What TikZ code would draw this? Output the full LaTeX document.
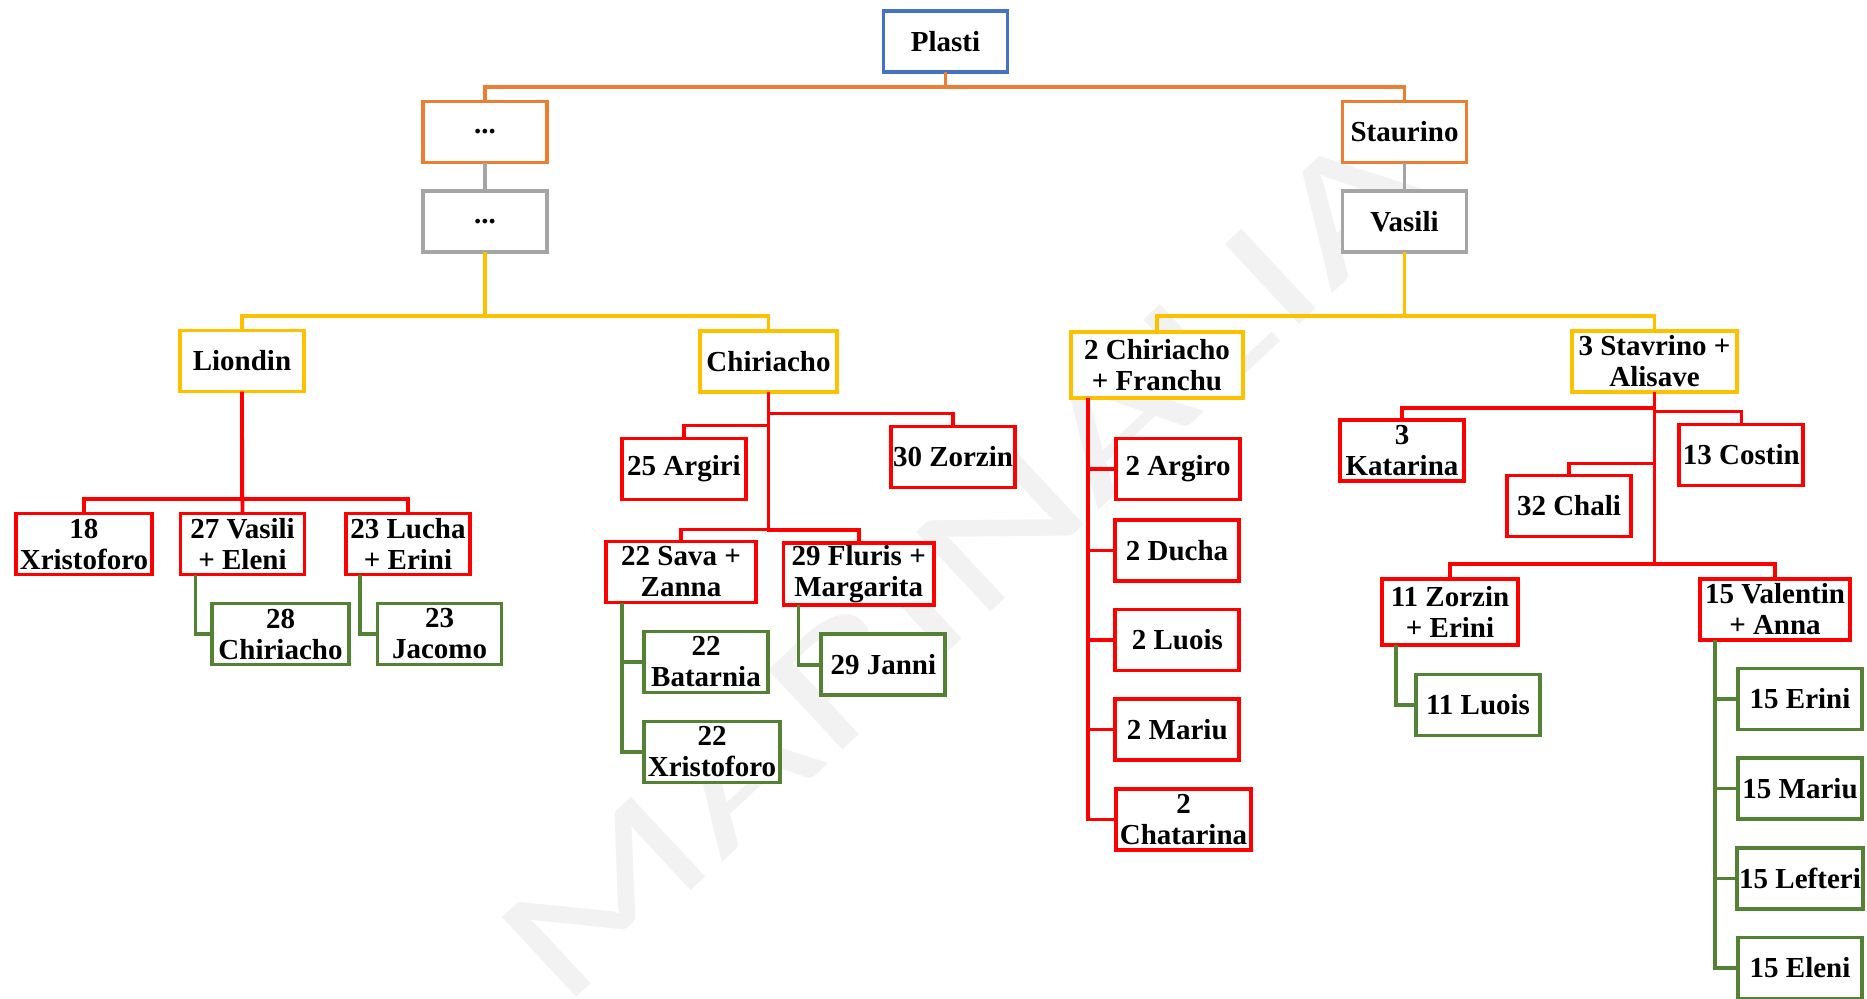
\documentclass[tikz,border=0pt]{standalone}
\usepackage{fontspec}
\setmainfont{Liberation Serif}
\newfontfamily\markfont{Carlito}
\usetikzlibrary{calc}
\definecolor{officeblue}{RGB}{68,114,196}
\definecolor{officeorange}{RGB}{237,125,49}
\definecolor{officegray}{RGB}{165,165,165}
\definecolor{officegold}{RGB}{255,192,0}
\definecolor{brightred}{RGB}{255,0,0}
\definecolor{leafgreen}{RGB}{84,130,53}
\definecolor{markgray}{RGB}{242,242,242}

\begin{document}
\begin{tikzpicture}[x=0.5pt, y=-0.5pt, line join=miter,
    box/.style={draw, fill=white, line width=1.85pt, inner sep=1pt, outer sep=0pt,
      align=center, minimum width=62pt, minimum height=30.5pt,
      font=\fontsize{14.5}{15.5}\selectfont\bfseries},
    link/.style={line width=1.8pt}]

		% page frame
		\useasboundingbox (0,0) rectangle (1867,998);

		% watermark
		\node[text=markgray, font=\markfont\fontsize{85}{85}\selectfont,
		  rotate=43, xscale=1.5] (mark) at (963,563) {MARINALIA};

		% bar heights
		\coordinate (bar0) at (0,87);
		\coordinate (bar2) at (0,316);
		\coordinate (barL) at (0,499);
		\coordinate (barS) at (0,564);

		% top and first generations
		\node[box, draw=officeblue] (pla) at (945.5,41.5) {Plasti};
		\node[box, draw=officeorange] (dotA) at (485,132) {...};
		\node[box, draw=officeorange] (sta) at (1404.5,132) {Staurino};
		\node[box, draw=officegray] (dotB) at (485,221.5) {...};
		\node[box, draw=officegray] (vas) at (1404.5,221.5) {Vasili};

		% third generation
		\node[box, draw=officegold] (lio) at (242,361) {Liondin};
		\node[box, draw=officegold, minimum width=68.75pt] (chi) at (768.5,361.5) {Chiriacho};
		\node[box, draw=officegold, minimum width=86pt, minimum height=33.25pt] (fra) at (1157,365) {2 Chiriacho\\+ Franchu};
		\node[box, draw=officegold, minimum width=82.75pt] (stv) at (1654.5,361.3) {3 Stavrino +\\Alisave};

		% Liondin branch
		\node[box, draw=brightred, minimum width=68.25pt] (x18) at (84,544) {18\\Xristoforo};
		\node[box, draw=brightred] (vas27) at (242.5,544) {27 Vasili\\+ Eleni};
		\node[box, draw=brightred] (luc23) at (408,544) {23 Lucha\\+ Erini};
		\node[box, draw=leafgreen, minimum width=68.75pt] (chi28) at (280.5,634) {28\\Chiriacho};
		\node[box, draw=leafgreen] (jac23) at (439.6,634) {23\\Jacomo};

		% Chiriacho branch
		\node[box, draw=brightred] (arg25) at (684,469) {25 Argiri};
		\node[box, draw=brightred] (zor30) at (953,457) {30 Zorzin};
		\node[box, draw=brightred, minimum width=75.25pt] (sav22) at (681,572) {22 Sava +\\Zanna};
		\node[box, draw=brightred, minimum width=75.25pt] (flu29) at (858.7,574) {29 Fluris +\\Margarita};
		\node[box, draw=leafgreen] (bat22) at (706,662) {22\\Batarnia};
		\node[box, draw=leafgreen, minimum width=68.25pt] (xri22) at (712,752) {22\\Xristoforo};
		\node[box, draw=leafgreen] (jan29) at (883.3,664.7) {29 Janni};

		% Franchu branch
		\node[box, draw=brightred] (arg2) at (1178,469) {2 Argiro};
		\node[box, draw=brightred] (duc2) at (1177,550.5) {2 Ducha};
		\node[box, draw=brightred] (luo2) at (1177.3,640) {2 Luois};
		\node[box, draw=brightred] (mar2) at (1177.3,729.5) {2 Mariu};
		\node[box, draw=brightred, minimum width=67.75pt] (cha2) at (1183.5,819.5) {2\\Chatarina};

		% Stavrino branch
		\node[box, draw=brightred] (kat3) at (1402,450.5) {3\\Katarina};
		\node[box, draw=brightred] (cos13) at (1741.3,455) {13 Costin};
		\node[box, draw=brightred] (cha32) at (1569,506) {32 Chali};
		\node[box, draw=brightred, minimum width=68.25pt, minimum height=33.25pt] (zor11) at (1450,612) {11 Zorzin\\+ Erini};
		\node[box, draw=brightred, minimum width=74.75pt] (val15) at (1775,609.5) {15 Valentin\\+ Anna};
		\node[box, draw=leafgreen] (luo11) at (1478,705) {11 Luois};
		\node[box, draw=leafgreen] (eri15) at (1800,699) {15 Erini};
		\node[box, draw=leafgreen] (mar15) at (1800,788.6) {15 Mariu};
		\node[box, draw=leafgreen] (lef15) at (1800,878.5) {15 Lefteri};
		\node[box, draw=leafgreen] (ele15) at (1800,968) {15 Eleni};

		% links
		\draw[link, officeorange] (pla.south) |- (dotA.north |- bar0) -- (dotA.north);
		\draw[link, officeorange] (pla.south) |- (sta.north |- bar0) -- (sta.north);
		\draw[link, officegray] (dotA) -- (dotB);
		\draw[link, officegray] (sta) -- (vas);
		\draw[link, officegold] (dotB.south) |- (lio.north |- bar2) -- (lio.north);
		\draw[link, officegold] (dotB.south) |- (chi.north |- bar2) -- (chi.north);
		\draw[link, officegold] (vas.south) |- (fra.north |- bar2) -- (fra.north);
		\draw[link, officegold] (vas.south) |- (stv.north |- bar2) -- (stv.north);

		\draw[link, brightred] (lio.south) |- (x18.north |- barL) -- (x18.north);
		\draw[link, brightred] (lio.south) -- (vas27.north);
		\draw[link, brightred] (lio.south) |- (luc23.north |- barL) -- (luc23.north);
		\draw[link, leafgreen] ($(vas27.south west)+(15,0)$) |- (chi28.west);
		\draw[link, leafgreen] ($(luc23.south west)+(14,0)$) |- (jac23.west);

		\draw[link, brightred] (chi.south) |- ($(zor30.north)+(0,-13)$) -- (zor30.north);
		\draw[link, brightred] (chi.south) |- ($(arg25.north)+(0,-13)$) -- (arg25.north);
		\draw[link, brightred] (chi.south) |- ($(sav22.north)+(0,-12)$) -- (sav22.north);
		\draw[link, brightred] (chi.south) |- ($(flu29.north)+(0,-13)$) -- (flu29.north);
		\draw[link, leafgreen] ($(sav22.south west)+(16,0)$) |- (bat22.west);
		\draw[link, leafgreen] ($(sav22.south west)+(16,0)$) |- (xri22.west);
		\draw[link, leafgreen] ($(flu29.south west)+(15,0)$) |- (jan29.west);

		\draw[link, brightred] ($(fra.south west)+(17,0)$) |- (arg2.west);
		\draw[link, brightred] ($(fra.south west)+(17,0)$) |- (duc2.west);
		\draw[link, brightred] ($(fra.south west)+(17,0)$) |- (luo2.west);
		\draw[link, brightred] ($(fra.south west)+(17,0)$) |- (mar2.west);
		\draw[link, brightred] ($(fra.south west)+(17,0)$) |- (cha2.west);

		\draw[link, brightred] (stv.south) |- ($(kat3.north)+(0,-12)$) -- (kat3.north);
		\draw[link, brightred] (stv.south) |- ($(cos13.north)+(0,-13)$) -- (cos13.north);
		\draw[link, brightred] (stv.south) |- ($(cha32.north)+(0,-12)$) -- (cha32.north);
		\draw[link, brightred] (stv.south) |- (zor11.north |- barS) -- (zor11.north);
		\draw[link, brightred] (stv.south) |- (val15.north |- barS) -- (val15.north);
		\draw[link, leafgreen] ($(zor11.south west)+(14,0)$) |- (luo11.west);
		\draw[link, leafgreen] ($(val15.south west)+(15,0)$) |- (eri15.west);
		\draw[link, leafgreen] ($(val15.south west)+(15,0)$) |- (mar15.west);
		\draw[link, leafgreen] ($(val15.south west)+(15,0)$) |- (lef15.west);
		\draw[link, leafgreen] ($(val15.south west)+(15,0)$) |- (ele15.west);
    \end{tikzpicture}
\end{document}
